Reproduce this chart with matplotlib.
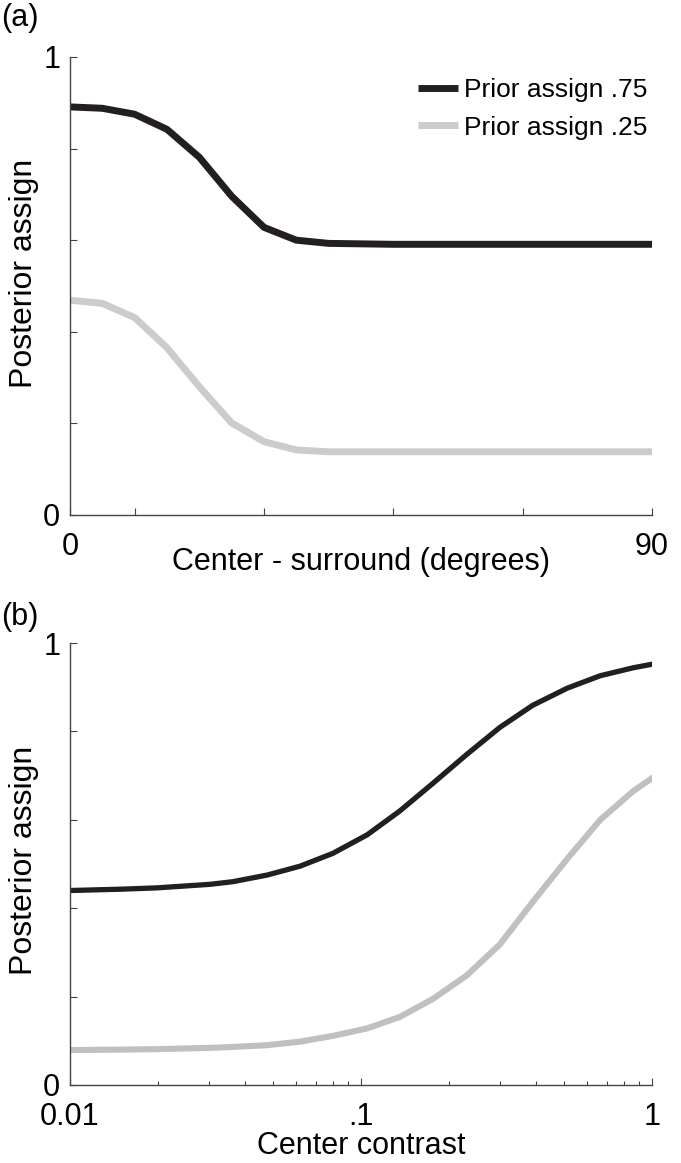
import matplotlib
matplotlib.use("Agg")
import matplotlib.pyplot as plt
from matplotlib.ticker import FixedLocator, NullFormatter, LogLocator

plt.rcParams['font.family'] = ['Liberation Sans', 'DejaVu Sans']

# panel (a): center - surround orientation difference (degrees)
angle = [0, 5, 10, 15, 20, 25, 30, 35, 40, 45, 50, 55, 60, 65, 70, 75, 80, 85, 90]
post_a_75 = [0.891, 0.888, 0.875, 0.842, 0.781, 0.696, 0.628, 0.600, 0.593, 0.592,
             0.591, 0.591, 0.591, 0.591, 0.591, 0.591, 0.591, 0.591, 0.591]
post_a_25 = [0.469, 0.462, 0.431, 0.365, 0.280, 0.201, 0.160, 0.142, 0.138, 0.138,
             0.138, 0.138, 0.138, 0.138, 0.138, 0.138, 0.138, 0.138, 0.138]

# panel (b): center contrast
contrast = [0.01, 0.015, 0.0199, 0.0303, 0.0363, 0.0476, 0.0617, 0.08, 0.105, 0.136,
            0.177, 0.231, 0.30, 0.389, 0.512, 0.664, 0.862, 1.0]
post_b_75 = [0.440, 0.443, 0.446, 0.454, 0.460, 0.475, 0.495, 0.524, 0.566, 0.620,
             0.683, 0.748, 0.809, 0.859, 0.898, 0.926, 0.944, 0.952]
post_b_25 = [0.079, 0.080, 0.081, 0.084, 0.086, 0.090, 0.098, 0.111, 0.128, 0.154,
             0.195, 0.248, 0.318, 0.414, 0.512, 0.600, 0.665, 0.694]

dark = '#231f20'
light = '#cbcccd'
axcol = '#444444'
fs = 22

fig = plt.figure(figsize=(6.81, 11.63), dpi=100)
ax1 = fig.add_axes([0.1028, 0.5572, 0.8546, 0.3938])
ax2 = fig.add_axes([0.1028, 0.0671, 0.8546, 0.3800])

# ---- (a)
ax1.plot(angle, post_a_75, color=dark, lw=5.0, label='Prior assign .75', solid_capstyle='butt')
ax1.plot(angle, post_a_25, color=light, lw=5.0, label='Prior assign .25', solid_capstyle='butt')
ax1.set_xlim(0, 90)
ax1.set_ylim(0, 1)
ax1.xaxis.set_major_locator(FixedLocator([0, 10, 30, 50, 70, 90]))
ax1.set_xticklabels(['0', '', '', '', '', '90'])
ax1.yaxis.set_major_locator(FixedLocator([0, 0.2, 0.4, 0.6, 0.8, 1.0]))
ax1.set_yticklabels(['0', '', '', '', '', '1'])
ax1.set_xlabel('Center - surround (degrees)', fontsize=fs)
ax1.set_ylabel('Posterior assign', fontsize=23)
ax1.xaxis.set_label_coords(0.5, -0.070)
ax1.yaxis.set_label_coords(-0.053, 0.527)
leg = ax1.legend(loc='upper right', bbox_to_anchor=(1.015, 0.982), frameon=False,
                 fontsize=19, handlelength=1.5, handletextpad=0.25, labelspacing=0.5,
                 borderpad=0)

# ---- (b)
ax2.plot(contrast, post_b_75, color=dark, lw=3.8)
ax2.plot(contrast, post_b_25, color='#bfc0c2', lw=4.4)
ax2.set_xscale('log')
ax2.set_xlim(0.01, 1)
ax2.set_ylim(0, 1)
ax2.xaxis.set_major_locator(FixedLocator([0.01, 0.1, 1]))
ax2.set_xticklabels(['0.01', '.1', '1'])
ax2.xaxis.set_minor_locator(LogLocator(base=10, subs=range(2, 10)))
ax2.xaxis.set_minor_formatter(NullFormatter())
ax2.yaxis.set_major_locator(FixedLocator([0, 0.2, 0.4, 0.6, 0.8, 1.0]))
ax2.set_yticklabels(['0', '', '', '', '', '1'])
ax2.set_xlabel('Center contrast', fontsize=fs)
ax2.set_ylabel('Posterior assign', fontsize=23)
ax2.xaxis.set_label_coords(0.5, -0.105)
ax2.yaxis.set_label_coords(-0.053, 0.509)

for ax in (ax1, ax2):
    for s in ('top', 'right'):
        ax.spines[s].set_visible(False)
    for s in ('left', 'bottom'):
        ax.spines[s].set_color(axcol)
        ax.spines[s].set_linewidth(1.0)
    ax.tick_params(which='major', direction='in', length=5, width=0.8, color=axcol,
                   labelsize=fs)
    ax.tick_params(which='minor', direction='in', length=3, width=0.8, color=axcol)
    ax.tick_params(axis='x', pad=12)
    ax.tick_params(axis='y', pad=7)

fig.text(0.001, 0.997, '(a)', fontsize=fs, ha='left', va='top')
fig.text(0.001, 0.482, '(b)', fontsize=fs, ha='left', va='top')

fig.savefig('out.png', dpi=100)
